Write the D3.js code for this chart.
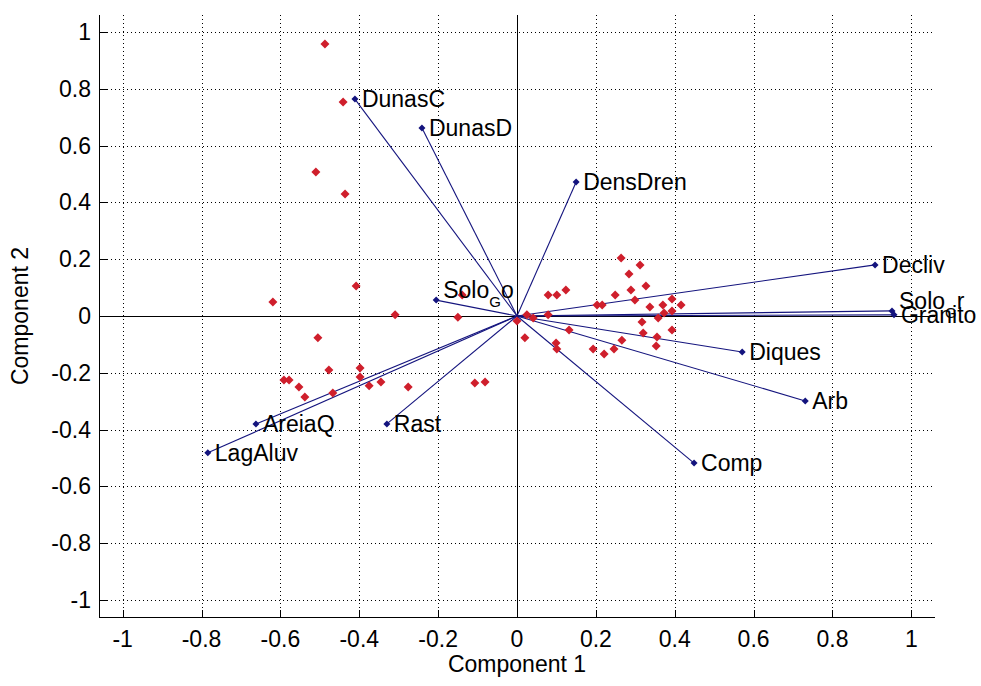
<!DOCTYPE html>
<html>
<head>
<meta charset="utf-8">
<script src="https://cdn.jsdelivr.net/npm/d3@7"></script>
<style>
  html, body { margin: 0; padding: 0; background: #fff; }
  svg { display: block; }
  text { font-family: "Liberation Sans", Arial, Helvetica, sans-serif; fill: #000; }
</style>
</head>
<body>
<svg id="chart" width="981" height="686"></svg>
<script>
// Variable loadings (biplot vectors)
const varNames = ["DunasC", "DunasD", "DensDren", "Decliv", "Solo_Gr", "Granito", "Diques",
                  "Arb", "Comp", "Rast", "AreiaQ", "LagAluv", "Solo_Go"];
const varComp1 = [-0.411, -0.241, 0.150, 0.908, 0.951, 0.956, 0.571, 0.731, 0.449, -0.330, -0.662, -0.784, -0.205];
const varComp2 = [0.764, 0.662, 0.472, 0.180, 0.018, 0.004, -0.127, -0.299, -0.518, -0.380, -0.380, -0.482, 0.056];

// Observation scores
const obsComp1 = [-0.487, -0.441, -0.510, -0.436, -0.408, -0.619, -0.309, -0.150, -0.139, -0.505,
                  -0.477, -0.398, -0.398, -0.591, -0.578, -0.553, -0.538, -0.467, -0.375, -0.345,
                  -0.276, -0.107, -0.081, 0.020, 0.000, 0.025, 0.041, 0.079, 0.101, 0.124,
                  0.079, 0.132, 0.099, 0.101, 0.203, 0.216, 0.249, 0.264, 0.312, 0.284,
                  0.327, 0.289, 0.299, 0.337, 0.370, 0.393, 0.416, 0.393, 0.358, 0.317,
                  0.320, 0.355, 0.393, 0.353, 0.266, 0.193, 0.221, 0.246, 0.373];
const obsComp2 = [0.958, 0.754, 0.507, 0.430, 0.106, 0.049, 0.004, -0.004, 0.074, -0.077,
                  -0.190, -0.183, -0.215, -0.225, -0.225, -0.250, -0.285, -0.271, -0.246, -0.232,
                  -0.250, -0.236, -0.232, -0.077, -0.018, 0.004, -0.007, 0.074, 0.074, 0.092,
                  0.004, -0.049, -0.095, -0.116, 0.039, 0.039, 0.074, 0.204, 0.180, 0.148,
                  0.106, 0.092, 0.056, 0.032, 0.039, 0.060, 0.039, 0.018, -0.007, -0.021,
                  -0.060, -0.074, -0.049, -0.106, -0.085, -0.116, -0.134, -0.116, 0.011];

const tickValues = [-1, -0.8, -0.6, -0.4, -0.2, 0, 0.2, 0.4, 0.6, 0.8, 1];
const tickLabels = ["-1", "-0.8", "-0.6", "-0.4", "-0.2", "0", "0.2", "0.4", "0.6", "0.8", "1"];
const xTitle = "Component 1";
const yTitle = "Component 2";

const W = 981, H = 686;
const plot = { left: 99, right: 935, top: 15, bottom: 617 };
const FONT = 23;

const svg = d3.select("#chart");
const x = d3.scaleLinear().domain([-1.06, 1.06]).range([plot.left, plot.right]);
const y = d3.scaleLinear().domain([-1.06, 1.06]).range([plot.bottom, plot.top]);

// dotted grid
const grid = svg.append("g").attr("stroke", "#000").attr("stroke-width", 1)
  .attr("stroke-dasharray", "1,3").attr("shape-rendering", "crispEdges");
grid.selectAll("line.gx").data(tickValues).join("line")
  .attr("x1", d => Math.round(x(d)) + 0.5).attr("x2", d => Math.round(x(d)) + 0.5)
  .attr("y1", plot.top).attr("y2", plot.bottom);
grid.selectAll("line.gy").data(tickValues).join("line")
  .attr("x1", plot.left).attr("x2", plot.right)
  .attr("y1", d => Math.round(y(d)) + 0.5).attr("y2", d => Math.round(y(d)) + 0.5);

// axes: left & bottom spines with inward ticks
const xAxis = d3.axisTop(x).tickValues(tickValues).tickSize(8).tickFormat("");
const yAxis = d3.axisRight(y).tickValues(tickValues).tickSize(8).tickFormat("");
const gx = svg.append("g").attr("transform", `translate(0,${plot.bottom + 0.5})`).call(xAxis);
const gy = svg.append("g").attr("transform", `translate(${plot.left + 0.5},0)`).call(yAxis);
[gx, gy].forEach(g => {
  g.select(".domain").remove();
  g.selectAll("line").attr("stroke", "#000").attr("shape-rendering", "crispEdges");
});
svg.append("line").attr("x1", plot.left + 0.5).attr("x2", plot.left + 0.5)
  .attr("y1", plot.top).attr("y2", plot.bottom + 1).attr("stroke", "#000");
svg.append("line").attr("x1", plot.left).attr("x2", plot.right)
  .attr("y1", plot.bottom + 0.5).attr("y2", plot.bottom + 0.5).attr("stroke", "#000");

// tick labels
svg.append("g").selectAll("text").data(tickValues).join("text")
  .attr("x", d => x(d)).attr("y", plot.bottom + 30)
  .attr("text-anchor", "middle").attr("font-size", FONT)
  .text((d, i) => tickLabels[i]);
svg.append("g").selectAll("text").data(tickValues).join("text")
  .attr("x", plot.left - 8).attr("y", d => y(d) + 8)
  .attr("text-anchor", "end").attr("font-size", FONT)
  .text((d, i) => tickLabels[i]);

// axis titles
svg.append("text").attr("x", x(0)).attr("y", 672).attr("text-anchor", "middle")
  .attr("font-size", FONT).text(xTitle);
svg.append("text").attr("transform", `translate(28,${(plot.top + plot.bottom) / 2}) rotate(-90)`)
  .attr("text-anchor", "middle").attr("font-size", FONT).text(yTitle);

// zero lines
svg.append("line").attr("x1", Math.round(x(0)) + 0.5).attr("x2", Math.round(x(0)) + 0.5)
  .attr("y1", plot.top).attr("y2", plot.bottom).attr("stroke", "#000");
svg.append("line").attr("x1", plot.left).attr("x2", plot.right)
  .attr("y1", Math.round(y(0)) + 0.5).attr("y2", Math.round(y(0)) + 0.5).attr("stroke", "#000");

const diamond = r => `M0,${-r}L${r},0L0,${r}L${-r},0Z`;
const BLUE = "#14147e";
const RED = "#cf1f2c";

const vars = varNames.map((n, i) => ({ name: n, c1: varComp1[i], c2: varComp2[i] }));
const obs = obsComp1.map((v, i) => ({ c1: v, c2: obsComp2[i] }));

// vectors
svg.append("g").selectAll("line").data(vars).join("line")
  .attr("x1", x(0)).attr("y1", y(0))
  .attr("x2", d => x(d.c1)).attr("y2", d => y(d.c2))
  .attr("stroke", BLUE).attr("stroke-width", 1.1);
svg.append("g").selectAll("path").data(vars).join("path")
  .attr("d", diamond(3.5)).attr("fill", BLUE)
  .attr("transform", d => `translate(${x(d.c1)},${y(d.c2)})`);

// observations
svg.append("g").selectAll("path").data(obs).join("path")
  .attr("d", diamond(4.5)).attr("fill", RED)
  .attr("transform", d => `translate(${x(d.c1)},${y(d.c2)})`);

// vector labels; "_" makes the next character a subscript
const labels = svg.append("g");
vars.forEach(d => {
  const px = x(d.c1) + 7, py = y(d.c2);
  const k = d.name.indexOf("_");
  const t = labels.append("text").attr("font-size", FONT).attr("x", px);
  if (k < 0) {
    t.attr("y", py + 8).text(d.name);
  } else {
    t.attr("y", py - 2);
    t.append("tspan").text(d.name.slice(0, k));
    t.append("tspan").attr("font-size", 15).attr("dy", 9).text(d.name.charAt(k + 1));
    t.append("tspan").attr("dy", -9).text(d.name.slice(k + 2));
  }
});
</script>
</body>
</html>
